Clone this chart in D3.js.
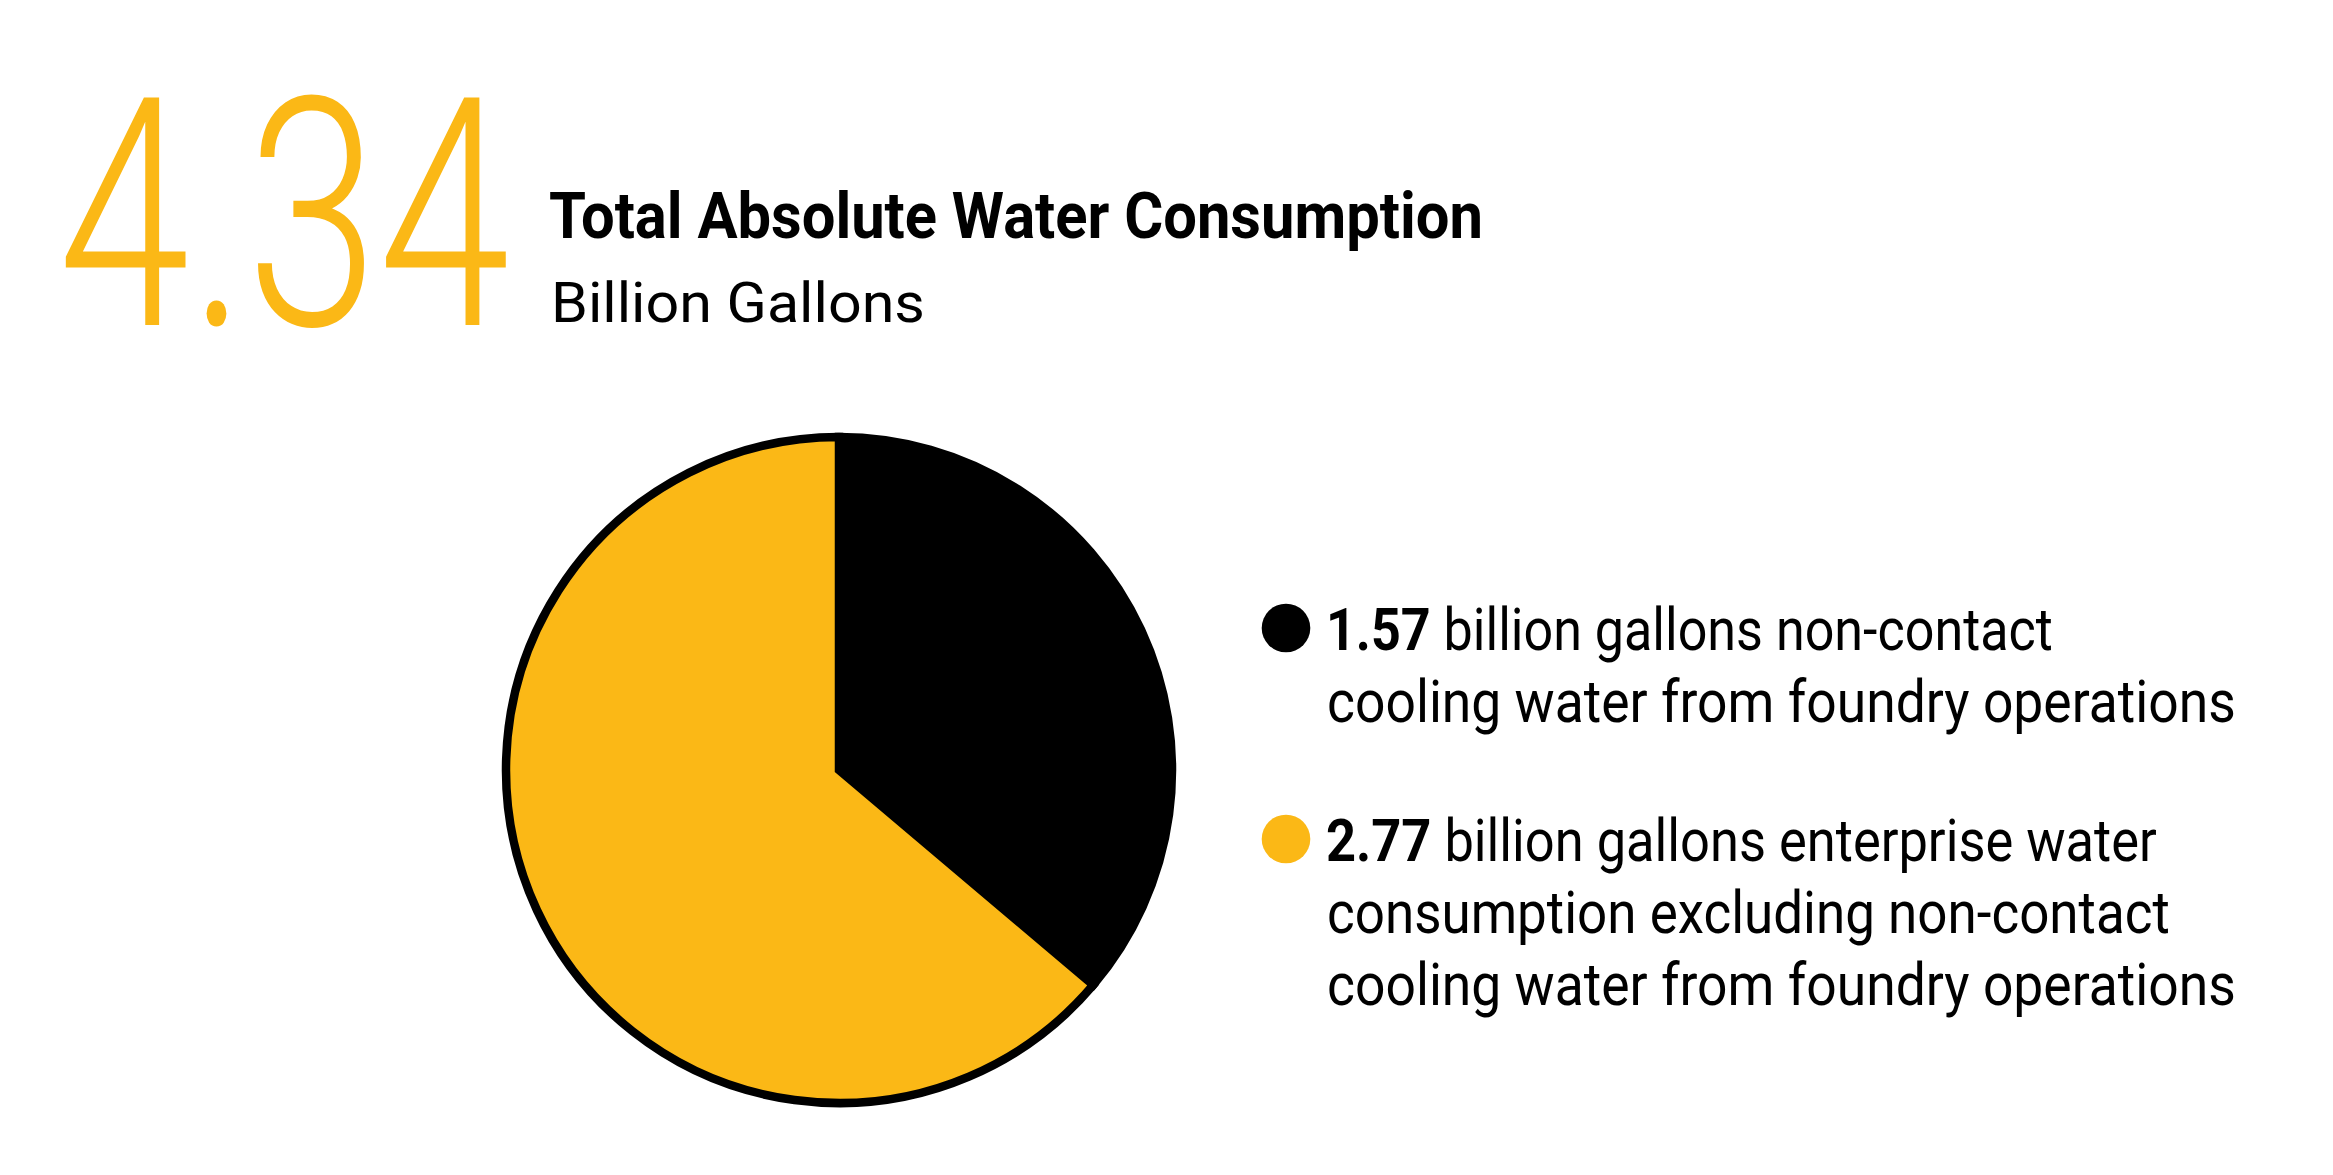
<!DOCTYPE html>
<html>
<head>
  <meta charset="utf-8">
  <style>
  body {
    margin: 0;
    background: #fff;
  }
  svg text {
    font-family: "Liberation Sans Narrow", "Roboto", sans-serif;
    fill: #000;
  }
  .big {
    font-family: "Roboto", sans-serif !important;
    font-weight: 300;
    fill: #fbb816 !important;
  }
  </style>
</head>
<body>
  <div id="chart"></div>
  <script src="https://d3js.org/d3.v7.min.js"></script>
  <script>
  // values
  var totalValue = "4.34";
  var titleText = "Total Absolute Water Consumption";
  var unitText = "Billion Gallons";

  var sliceNames = ["non-contact cooling", "enterprise"];
  var sliceValues = [1.57, 2.77];
  var sliceColors = ["#000000", "#fbb816"];

  // first line starts with the bold number, the rest is regular text
  var legendLines = [
    [" billion gallons non-contact", "cooling water from foundry operations"],
    [" billion gallons enterprise water", "consumption excluding non-contact", "cooling water from foundry operations"]
  ];

  var width = 2333, height = 1175;

  var svg = d3.select("#chart").append("svg")
      .attr("width", width)
      .attr("height", height);

  // squeeze a text so it spans from x0 to x1 (the original face is a condensed one)
  function fit(sel, x0, x1, y) {
    var w = sel.node().getBBox().width;
    var k = (x1 - x0) / w;
    sel.attr("transform", "translate(" + x0 + "," + y + ") scale(" + k + ",1)");
  }

  // big number
  var big = svg.append("text")
      .attr("class", "big")
      .style("font-size", "320px")
      .text(totalValue);
  fit(big, 58, 510, 325);

  var title = svg.append("text")
      .style("font-size", "65px")
      .style("font-weight", "bold")
      .text(titleText);
  fit(title, 549, 1483, 238);

  var unit = svg.append("text")
      .style("font-size", "56px")
      .text(unitText);
  fit(unit, 551, 925, 322);

  // pie
  var cx = 839, cy = 770, r = 333;

  var pie = d3.pie().sort(null).value(function(d){ return d; });
  var arc = d3.arc().innerRadius(0).outerRadius(r);

  svg.append("g")
      .attr("transform", "translate(" + cx + "," + cy + ")")
    .selectAll("path")
      .data(pie(sliceValues))
    .enter().append("path")
      .attr("d", arc)
      .style("fill", function(d, i){ return sliceColors[i]; })
      .style("stroke", "#000")
      .style("stroke-width", 8.5)
      .style("stroke-linejoin", "miter");

  // legend
  var legendX = 1286, textX = 1326;
  var itemTop = [628, 839];
  var lineGap = 72;
  var lineEnds = [[2053, 2236], [2157, 2170, 2236]];

  legendLines.forEach(function(lines, i) {
    var g = svg.append("g").attr("class", "legend-item");

    g.append("circle")
        .attr("cx", legendX)
        .attr("cy", itemTop[i])
        .attr("r", 24.3)
        .style("fill", sliceColors[i]);

    lines.forEach(function(line, j) {
      var t = g.append("text").style("font-size", "60px");
      if (j === 0) {
        t.append("tspan")
            .style("font-weight", "bold")
            .text(sliceValues[i].toFixed(2));
      }
      t.append("tspan").text(line);
      fit(t, j === 0 ? textX : textX + 1, lineEnds[i][j], itemTop[i] + 22 + j * lineGap);
    });
  });
  </script>
</body>
</html>
